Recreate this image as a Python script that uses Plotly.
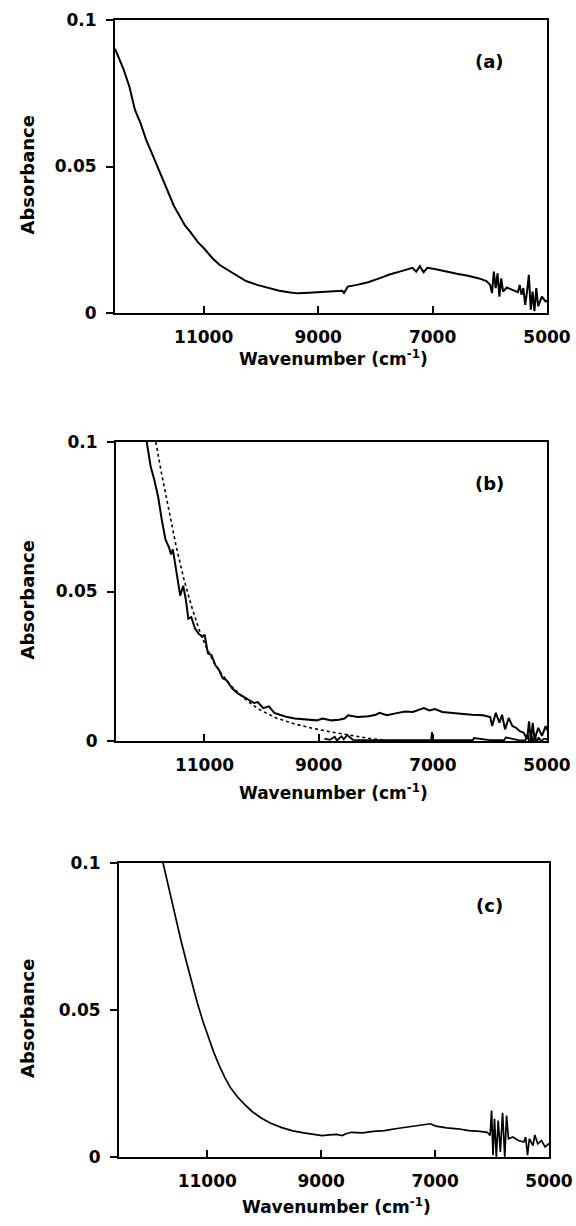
import plotly.graph_objects as go

# ---------------- data ----------------
# Panel (a)
a_wn = [12550, 12459, 12395, 12298, 12201, 12104, 12007, 11910, 11813, 11716, 11619, 11522,
        11425, 11328, 11231, 11102, 10992, 10843, 10714, 10584, 10455, 10261, 10067, 9873,
        9679, 9485, 9356, 9162, 8968, 8774, 8580, 8548, 8483, 8321, 8127, 7933, 7739, 7545,
        7416, 7351, 7287, 7222, 7157, 7093, 6963, 6769, 6575, 6381, 6187, 6058, 5994, 5961,
        5929, 5897, 5864, 5832, 5800, 5768, 5703, 5606, 5509, 5478, 5446, 5414, 5381, 5349,
        5317, 5284, 5252, 5220, 5187, 5155, 5090, 5026, 4960]
a_abs = [0.0902, 0.0862, 0.0829, 0.0772, 0.0693, 0.0648, 0.0592, 0.0547, 0.0502, 0.0451, 0.0412, 0.0366,
         0.0333, 0.0299, 0.0276, 0.0242, 0.0220, 0.0186, 0.0163, 0.0147, 0.0130, 0.0109, 0.0096, 0.0085,
         0.0076, 0.0070, 0.0067, 0.0069, 0.0071, 0.0073, 0.0076, 0.0068, 0.0090, 0.0096, 0.0105, 0.0118, 0.0132, 0.0143,
         0.0150, 0.0154, 0.0141, 0.0160, 0.0139, 0.0154, 0.0150, 0.0141, 0.0134, 0.0127, 0.0118, 0.0109, 0.0096, 0.0068,
         0.0141, 0.0085, 0.0135, 0.0056, 0.0118, 0.0073, 0.0087, 0.0079, 0.0071, 0.0096, 0.0062, 0.0085, 0.0028, 0.0073,
         0.0130, 0.0011, 0.0073, 0.0006, 0.0085, 0.0023, 0.0056, 0.0039, 0.0045]

# Panel (b) measured spectrum
b_wn = [12020, 11975, 11942, 11878, 11813, 11748, 11684, 11619, 11587, 11554, 11490, 11425,
        11373, 11328, 11283, 11231, 11166, 11102, 11037, 10998, 10940, 10876, 10811, 10746,
        10681, 10617, 10520, 10423, 10326, 10229, 10132, 10067, 9970, 9873, 9776, 9679, 9550,
        9420, 9226, 9032, 8935, 8774, 8645, 8548, 8483, 8321, 8127, 7998, 7933, 7804, 7610,
        7481, 7351, 7222, 7157, 7060, 6963, 6834, 6705, 6511, 6317, 6123, 5994, 5961, 5897,
        5832, 5787, 5735, 5671, 5606, 5541, 5477, 5412, 5347, 5315, 5282, 5250, 5218, 5153,
        5088, 5024, 4960]
b_abs = [0.1010, 0.0950, 0.0917, 0.0873, 0.0818, 0.0740, 0.0674, 0.0646, 0.0624, 0.0641, 0.0564, 0.0486,
         0.0519, 0.0475, 0.0409, 0.0414, 0.0376, 0.0359, 0.0348, 0.0356, 0.0293, 0.0287, 0.0254, 0.0238,
         0.0210, 0.0204, 0.0177, 0.0160, 0.0149, 0.0138, 0.0127, 0.0130, 0.0110, 0.0116, 0.0094, 0.0088, 0.0080,
         0.0075, 0.0072, 0.0069, 0.0075, 0.0069, 0.0071, 0.0075, 0.0086, 0.0080, 0.0083, 0.0088, 0.0094, 0.0086, 0.0094,
         0.0099, 0.0097, 0.0105, 0.0110, 0.0102, 0.0107, 0.0097, 0.0094, 0.0091, 0.0088, 0.0086, 0.0080, 0.0050, 0.0094,
         0.0061, 0.0088, 0.0039, 0.0077, 0.0050, 0.0044, 0.0033, 0.0028, 0.0006, 0.0066, 0.0000, 0.0061, 0.0006, 0.0044,
         0.0017, 0.0050, 0.0022]

# Panel (b) fitted scattering curve (dashed)
fit_wn = [11852, 11748, 11619, 11490, 11360, 11231, 11102, 10972, 10843, 10714, 10520, 10326,
          10067, 9744, 9420, 9097, 8774, 8451, 8127, 7804, 7481]
fit_abs = [0.1000, 0.0890, 0.0768, 0.0646, 0.0541, 0.0453, 0.0376, 0.0315, 0.0265, 0.0227, 0.0182, 0.0146,
           0.0108, 0.0077, 0.0057, 0.0042, 0.0030, 0.0019, 0.0009, 0.0002, 0.0000]

# Panel (b) near-zero residual curve
res_wn = [8900, 8800, 8720, 8680, 8600, 8560, 8500, 8450, 8400, 8300, 8100, 7800, 7500, 7100,
          7030, 7015, 7000, 6800, 6500, 6300, 6280, 6000, 5750, 5720, 5500, 5380, 5340, 5300,
          5270, 5240, 5210, 5180, 5150, 5100, 5050, 4960]
res_abs = [0.0008, 0.0004, 0.0014, 0.0002, 0.0016, 0.0006, 0.0020, 0.0012, 0.0004, 0.0003, 0.0003, 0.0003, 0.0003, 0.0003,
           0.0003, 0.0030, 0.0003, 0.0003, 0.0003, 0.0003, 0.0010, 0.0003, 0.0003, 0.0012, 0.0003, 0.0002, 0.0022, -0.0010,
           0.0018, -0.0012, 0.0020, -0.0008, 0.0012, 0.0000, 0.0008, 0.0004]

# Panel (c)
c_wn = [11786, 11721, 11657, 11560, 11464, 11367, 11271, 11174, 11077, 10981, 10884, 10787,
        10691, 10594, 10465, 10337, 10208, 10047, 9886, 9692, 9499, 9306, 9113, 8984, 8855,
        8726, 8630, 8565, 8469, 8275, 8082, 7889, 7696, 7503, 7309, 7180, 7084, 6987, 6794,
        6601, 6408, 6214, 6085, 6034, 6008, 5983, 5957, 5925, 5892, 5854, 5815, 5777, 5745,
        5712, 5635, 5538, 5442, 5410, 5377, 5345, 5281, 5249, 5197, 5133, 5068, 5004, 4959]
c_abs = [0.1008, 0.0952, 0.0895, 0.0816, 0.0738, 0.0664, 0.0591, 0.0524, 0.0462, 0.0405, 0.0355, 0.0310,
         0.0270, 0.0236, 0.0203, 0.0177, 0.0154, 0.0132, 0.0115, 0.0100, 0.0089, 0.0082, 0.0078, 0.0073, 0.0075,
         0.0077, 0.0073, 0.0079, 0.0084, 0.0082, 0.0087, 0.0090, 0.0096, 0.0101, 0.0107, 0.0110, 0.0113, 0.0105, 0.0099,
         0.0096, 0.0090, 0.0087, 0.0084, 0.0073, 0.0158, 0.0006, 0.0130, 0.0000, 0.0124, 0.0017, 0.0150, 0.0000, 0.0141,
         0.0062, 0.0068, 0.0056, 0.0051, 0.0068, 0.0006, 0.0062, 0.0039, 0.0075, 0.0045, 0.0056, 0.0034, 0.0045, 0.0042]

x_ticks = [11000, 9000, 7000, 5000]
x_ticktext = ["11000", "9000", "7000", "5000"]
y_ticks = [0, 0.05, 0.1]
y_ticktext = ["0", "0.05", "0.1"]
panel_labels = ["(a)", "(b)", "(c)"]
x_title = "Wavenumber (cm<sup>-1</sup>)"
y_title = "Absorbance"

# ---------------- layout geometry (pixels) ----------------
W, H = 576, 1226
boxes = [  # left, right, top, bottom
    (115, 547, 20, 313),
    (116, 547, 442, 741),
    (119, 549, 863, 1157),
]
xtitle_off = [45, 51, 49]

def px_x(p):
    return p / W

def px_y(p):
    return 1 - p / H

FONT = "DejaVu Sans, Liberation Sans, Arial, sans-serif"
fig = go.Figure()

fig.add_trace(go.Scatter(x=a_wn, y=a_abs, mode="lines", line=dict(color="black", width=2), xaxis="x", yaxis="y"))
fig.add_trace(go.Scatter(x=b_wn, y=b_abs, mode="lines", line=dict(color="black", width=2), xaxis="x2", yaxis="y2"))
fig.add_trace(go.Scatter(x=fit_wn, y=fit_abs, mode="lines", line=dict(color="black", width=1.6, dash="dot"),
                         xaxis="x2", yaxis="y2"))
fig.add_trace(go.Scatter(x=res_wn, y=res_abs, mode="lines", line=dict(color="black", width=1.8),
                         xaxis="x2", yaxis="y2"))
fig.add_trace(go.Scatter(x=c_wn, y=c_abs, mode="lines", line=dict(color="black", width=1.7), xaxis="x3", yaxis="y3"))

layout = dict(
    width=W, height=H, margin=dict(l=0, r=0, t=0, b=0, pad=0), autosize=False,
    paper_bgcolor="white", plot_bgcolor="white", showlegend=False,
    font=dict(family=FONT, color="black"),
)
annotations = []
for i, (l, r, t, b) in enumerate(boxes):
    s = "" if i == 0 else str(i + 1)
    xa = dict(domain=[px_x(l), px_x(r)], range=[12550, 5000], anchor="y" + s, automargin=False,
              tickvals=x_ticks, ticktext=x_ticktext, ticks="inside", ticklen=7, tickwidth=2, tickcolor="black",
              showline=True, linewidth=2, linecolor="black", mirror=True,
              showgrid=False, zeroline=False, ticklabelstandoff=8,
              tickfont=dict(family=FONT, size=17, color="black", weight="bold"))
    ya = dict(domain=[px_y(b), px_y(t)], range=[0, 0.1], anchor="x" + s, automargin=False,
              tickvals=y_ticks, ticktext=y_ticktext, ticks="outside", ticklen=7, tickwidth=2,
              tickcolor="black", showline=True, linewidth=2, linecolor="black", mirror=True,
              showgrid=False, zeroline=False, ticklabelstandoff=6,
              tickfont=dict(family=FONT, size=17, color="black", weight="bold"))
    layout["xaxis" + s] = xa
    layout["yaxis" + s] = ya
    # right-side inward tick
    layout["yaxis" + str(4 + i)] = dict(overlaying="y" + s, side="right", anchor="x" + s, automargin=False,
                                        range=[0, 0.1], tickvals=[0.05], ticks="inside", ticklen=7,
                                        tickwidth=2, tickcolor="black", showticklabels=False,
                                        showline=False, showgrid=False, zeroline=False)
    annotations.append(dict(x=px_x((l + r) / 2 + 2), y=px_y(b + xtitle_off[i]), xref="paper", yref="paper",
                            text=x_title, showarrow=False, xanchor="center", yanchor="middle",
                            font=dict(family=FONT, size=17, color="black", weight="bold")))
    annotations.append(dict(x=px_x(27), y=px_y((t + b) / 2 + 8), xref="paper", yref="paper",
                            text=y_title, showarrow=False, textangle=-90, xanchor="center", yanchor="middle",
                            font=dict(family=FONT, size=18, color="black", weight="bold")))
    annotations.append(dict(x=px_x(489), y=px_y(t + 42), xref="paper", yref="paper",
                            text=panel_labels[i], showarrow=False, xanchor="center", yanchor="middle",
                            font=dict(family=FONT, size=18, color="black", weight="bold")))
layout["annotations"] = annotations
fig.update_layout(**layout)
fig.write_html("out.html", config={"displayModeBar": False},
               post_script="document.body.style.margin='0';document.body.style.overflow='hidden';")
